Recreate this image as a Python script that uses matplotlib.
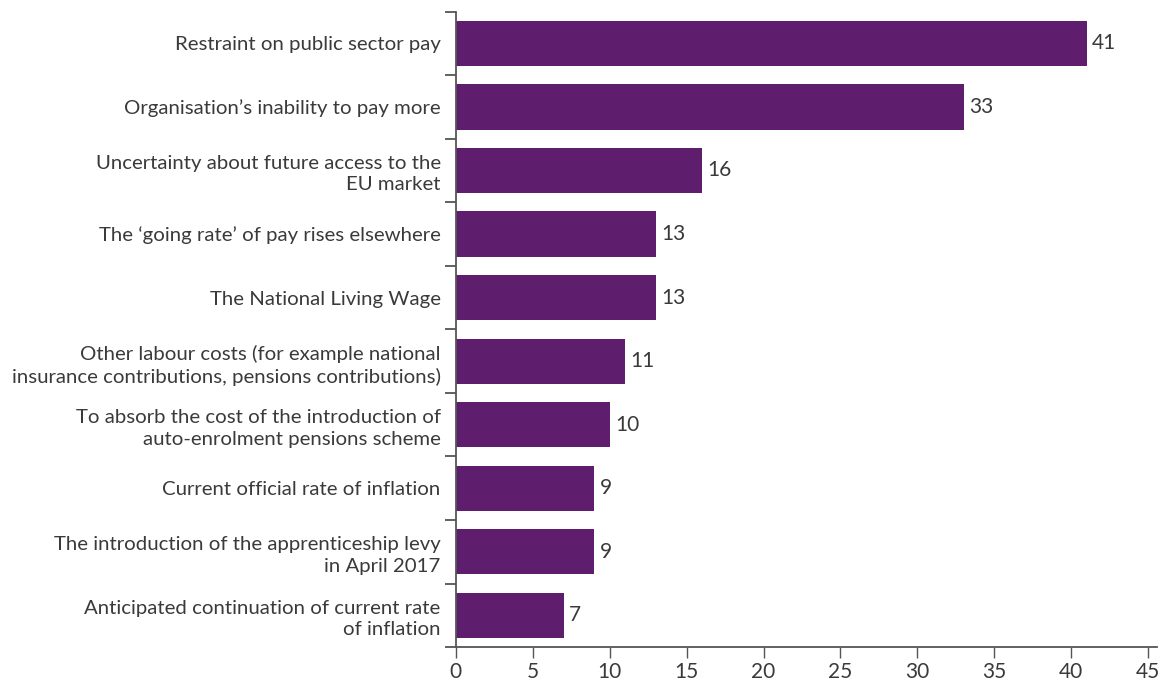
import numpy as np
import matplotlib
matplotlib.use("Agg")
import matplotlib.pyplot as plt

reasons = [
	"Restraint on public sector pay",
	"Organisation\u2019s inability to pay more",
	"Uncertainty about future access to the\nEU market",
	"The \u2018going rate\u2019 of pay rises elsewhere",
	"The National Living Wage",
	"Other labour costs (for example national\ninsurance contributions, pensions contributions)",
	"To absorb the cost of the introduction of\nauto-enrolment pensions scheme",
	"Current official rate of inflation",
	"The introduction of the apprenticeship levy\nin April 2017",
	"Anticipated continuation of current rate\nof inflation",
]
percent = [41, 33, 16, 13, 13, 11, 10, 9, 9, 7]
xticks = [0, 5, 10, 15, 20, 25, 30, 35, 40, 45]

bar_color = "#5f1d6e"
text_color = "#3a3a3a"
axis_color = "#555555"

plt.rcParams['font.family'] = ['Lato', 'DejaVu Sans']

fig = plt.figure(figsize=(11.69, 6.84), dpi=100)
ax = fig.add_axes([0.390, 0.054, 0.600, 0.929])

n = len(reasons)
ypos = np.arange(n)
ax.barh(ypos, percent, height=0.71, color=bar_color, zorder=2)

for y, v in zip(ypos, percent):
	ax.annotate(str(v), (v, y), xytext=(4, 0), textcoords="offset points",
		va="center", ha="left", fontsize=15, color=text_color)

ax.set_ylim(n - 0.5, -0.5)
ax.set_xlim(0, 45.6)

# category boundaries carry the y ticks, labels sit at bar centres
ax.set_yticks(np.arange(-0.5, n, 1.0))
ax.set_yticklabels([])
ax.set_yticks(ypos, minor=True)
ax.set_yticklabels(reasons, minor=True, fontsize=14.7, color=text_color,
	linespacing=1.32)
ax.tick_params(axis="y", which="major", length=8, width=1.3, color=axis_color)
ax.tick_params(axis="y", which="minor", length=0, pad=11)

ax.set_xticks(xticks)
ax.set_xticklabels([str(t) for t in xticks], fontsize=15, color=text_color)
ax.tick_params(axis="x", length=8, width=1.0, color=axis_color, pad=3)

for s in ["top", "right"]:
	ax.spines[s].set_visible(False)
for s in ["left", "bottom"]:
	ax.spines[s].set_color(axis_color)
	ax.spines[s].set_linewidth(1.3)

fig.savefig("out.png", dpi=100)
